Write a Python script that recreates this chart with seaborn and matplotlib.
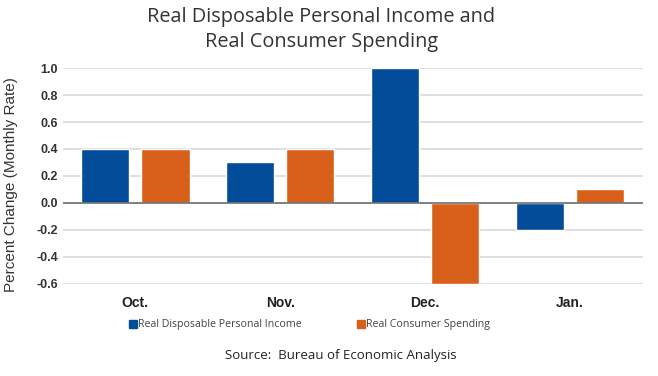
import pandas as pd
import numpy as np
import matplotlib
matplotlib.use("Agg")
import matplotlib.pyplot as plt
import matplotlib.patches as mpatches
import seaborn as sns

# 数据
months = ["Oct.", "Nov.", "Dec.", "Jan."]
income = [0.4, 0.3, 1.0, -0.2]
spending = [0.4, 0.4, -0.6, 0.1]
series_names = ["Real Disposable Personal Income", "Real Consumer Spending"]
colors = ["#034C99", "#D9601A"]

df = pd.DataFrame({
    "month": months * 2,
    "value": income + spending,
    "series": [series_names[0]] * 4 + [series_names[1]] * 4,
})

sns.set_theme(style="white")
plt.rcParams['font.family'] = ['Liberation Sans', 'DejaVu Sans']

fig = plt.figure(figsize=(6.58, 3.76), dpi=100)
ax = fig.add_axes([0.0957, 0.245, 0.881, 0.574])

sns.barplot(data=df, x="month", y="value", hue="series", palette=colors,
            width=0.83, gap=0.2, ax=ax, legend=False, saturation=1)

ax.set_ylim(-0.6, 1.0)
ax.set_xlim(-0.5, 3.5)
ticks = np.arange(-0.6, 1.01, 0.2)
ax.set_yticks(ticks)
ax.set_yticklabels([f"{v:.1f}" for v in ticks], fontsize=9, fontweight="bold", color="#333333")
ax.set_xticks(range(4))
ax.set_xticklabels(months, fontsize=10, fontweight="bold", color="#222222")
ax.tick_params(axis="both", length=0)
ax.tick_params(axis="x", pad=9)
ax.set_xlabel("")
ax.set_ylabel("Percent Change (Monthly Rate)", fontsize=11, color="#333333")
ax.yaxis.set_label_coords(-0.078, 0.46)

for s in ax.spines.values():
    s.set_visible(False)
ax.set_axisbelow(True)
ax.yaxis.grid(True, color="#D9D9D9", linewidth=1.2)
ax.axhline(0, color="#707070", linewidth=1.2)

# 标题
fig.text(0.488, 0.955, "Real Disposable Personal Income and", ha="center", va="center",
         fontsize=14.3, family="Open Sans", color="#333333")
fig.text(0.488, 0.888, "Real Consumer Spending", ha="center", va="center",
         fontsize=14.3, family="Open Sans", color="#333333")

# 图例
fig.patches.append(mpatches.Rectangle((129 / 658, 1 - 328 / 376), 8 / 658, 8 / 376,
                                      transform=fig.transFigure, color=colors[0]))
fig.text(138 / 658, 1 - 324 / 376, series_names[0], ha="left", va="center",
         fontsize=7.7, family="Open Sans", color="#444444")
fig.patches.append(mpatches.Rectangle((357 / 658, 1 - 328 / 376), 8 / 658, 8 / 376,
                                      transform=fig.transFigure, color=colors[1]))
fig.text(366 / 658, 1 - 324 / 376, series_names[1], ha="left", va="center",
         fontsize=7.7, family="Open Sans", color="#444444")

fig.text(0.518, 1 - 355 / 376, "Source:  Bureau of Economic Analysis", ha="center", va="center",
         fontsize=9.5, family="Open Sans", color="#222222")

fig.savefig("out.png", dpi=100)
